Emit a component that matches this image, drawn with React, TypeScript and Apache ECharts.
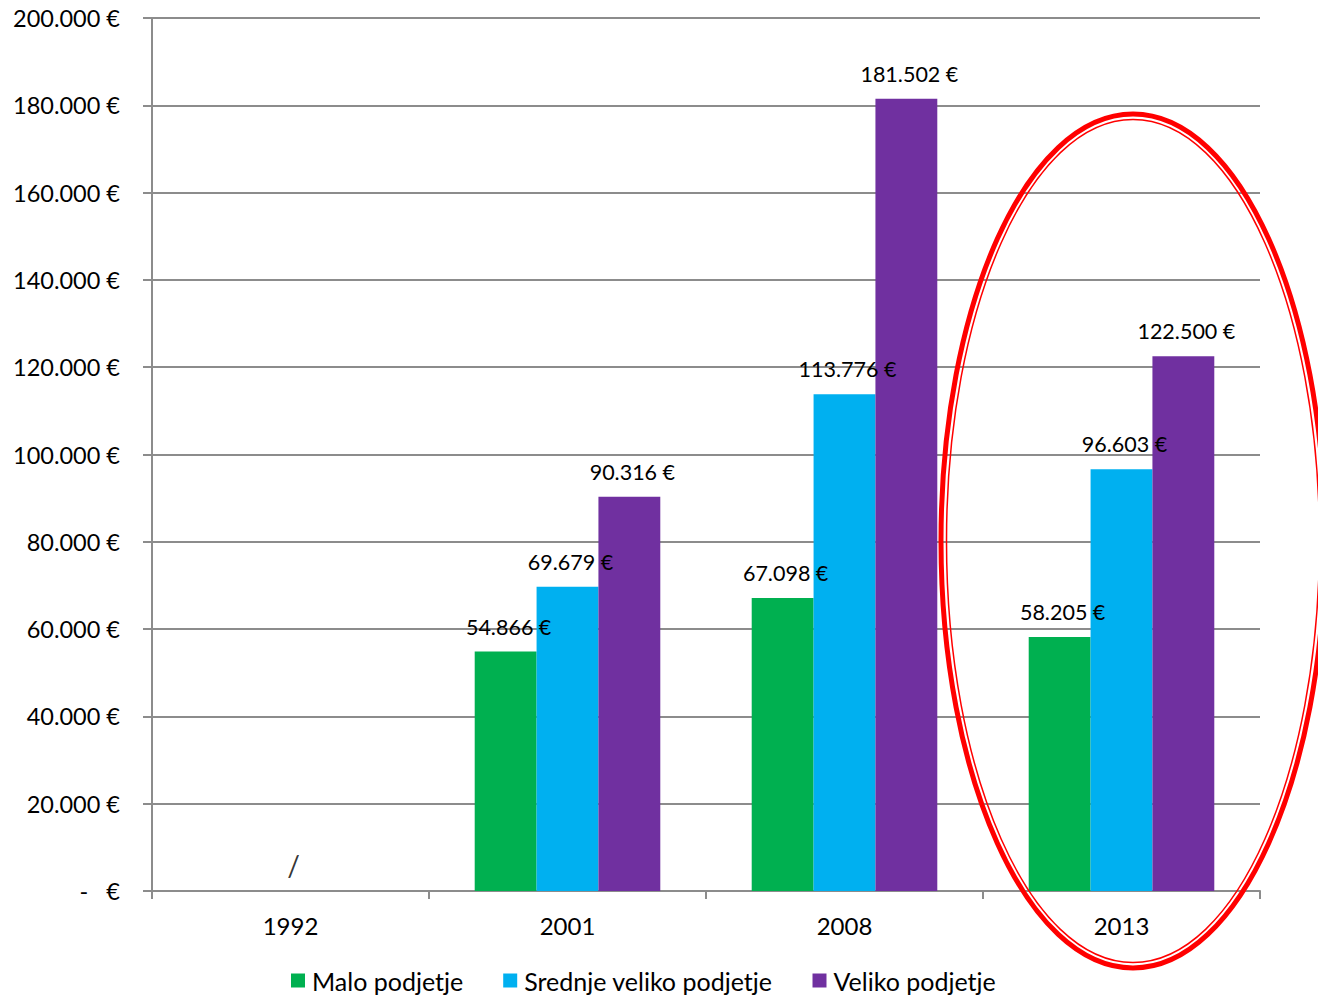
import React, { useEffect, useRef } from "react";
import * as echarts from "echarts";

const categories = ["1992", "2001", "2008", "2013"];
const malo = [null, 54866, 67098, 58205];
const srednje = [null, 69679, 113776, 96603];
const veliko = [null, 90316, 181502, 122500];
const missingMarks = [6000, null, null, null];
const seriesNames = ["Malo podjetje", "Srednje veliko podjetje", "Veliko podjetje"];
const colors = ["#00B050", "#00B0F0", "#7030A0"];

const FONT = "Lato, 'Open Sans', sans-serif";

function fmt(v: number): string {
  if (v === 0) return "-   €";
  const s = String(Math.round(v));
  const parts: string[] = [];
  for (let i = s.length; i > 0; i -= 3) parts.unshift(s.slice(Math.max(0, i - 3), i));
  return parts.join(".") + " €";
}

export default function App() {
  const ref = useRef<HTMLDivElement>(null);
  useEffect(() => {
    document.body.style.margin = "0";
    const chart = echarts.init(ref.current!, null, { renderer: "svg" });
    const barLabel = {
      show: true,
      position: "top" as const,
      distance: 14,
      offset: [3, 0],
      color: "#000",
      fontFamily: FONT,
      fontSize: 21.5,
      formatter: (p: any) => fmt(p.value),
    };
    const grey = "#8C8C8C";
    chart.setOption({
      animation: false,
      backgroundColor: "#fff",
      textStyle: { fontFamily: FONT },
      grid: { left: 152, right: 58, top: 18, bottom: 105, containLabel: false },
      legend: {
        data: seriesNames,
        left: 291,
        top: 968,
        padding: 0,
        itemWidth: 14,
        itemHeight: 14,
        itemGap: 40,
        icon: "rect",
        textStyle: { fontFamily: FONT, fontSize: 25, color: "#000", padding: [0, 0, 0, 2] },
      },
      xAxis: {
        type: "category",
        data: categories,
        axisLine: { lineStyle: { color: grey, width: 2 } },
        axisTick: { show: true, length: 8, lineStyle: { color: grey, width: 2 } },
        axisLabel: { margin: 22, color: "#000", fontSize: 24, fontFamily: FONT },
      },
      yAxis: {
        type: "value",
        min: 0,
        max: 200000,
        interval: 20000,
        axisLine: { show: true, lineStyle: { color: grey, width: 2 } },
        axisTick: { show: true, length: 9, lineStyle: { color: grey, width: 2 } },
        splitLine: { lineStyle: { color: grey, width: 2 } },
        axisLabel: {
          margin: 32,
          color: "#000",
          fontSize: 23.5,
          fontFamily: FONT,
          formatter: (v: number) => fmt(v),
        },
      },
      series: [
        {
          name: seriesNames[0],
          type: "bar",
          data: malo,
          itemStyle: { color: colors[0] },
          barGap: "0%",
          barCategoryGap: "33%",
          label: barLabel,
        },
        {
          name: seriesNames[1],
          type: "bar",
          data: srednje,
          itemStyle: { color: colors[1] },
          barGap: "0%",
          barCategoryGap: "33%",
          label: barLabel,
        },
        {
          name: seriesNames[2],
          type: "bar",
          data: veliko,
          itemStyle: { color: colors[2] },
          barGap: "0%",
          barCategoryGap: "33%",
          label: barLabel,
        },
        {
          name: "missing",
          type: "scatter",
          data: missingMarks,
          symbolSize: 0,
          silent: true,
          label: {
            show: true,
            position: "inside",
            formatter: "/",
            color: "#000",
            fontSize: 28,
            fontFamily: FONT,
            offset: [3, 0],
          },
        },
      ],
      graphic: [
        {
          type: "ellipse",
          shape: { cx: 1133, cy: 541, rx: 192, ry: 427 },
          style: { fill: "none", stroke: "#FF0000", lineWidth: 5 },
          z: 100,
        },
        {
          type: "ellipse",
          shape: { cx: 1133, cy: 541, rx: 186.5, ry: 421.5 },
          style: { fill: "none", stroke: "#FF0000", lineWidth: 1.5 },
          z: 100,
        },
      ],
    });
    return () => chart.dispose();
  }, []);
  return <div ref={ref} style={{ width: 1318, height: 996 }} />;
}
